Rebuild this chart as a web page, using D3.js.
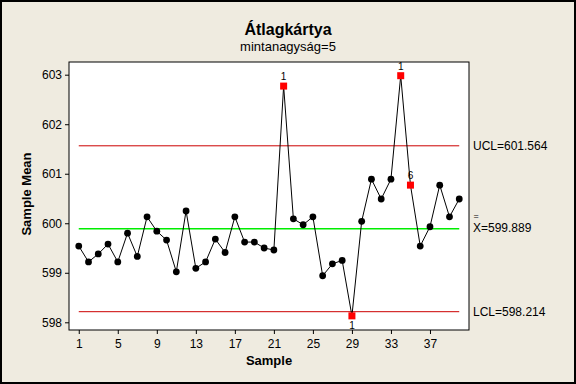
<!DOCTYPE html>
<html>
<head>
<meta charset="utf-8">
<script src="https://cdn.jsdelivr.net/npm/d3@7"></script>
<style>
html,body{margin:0;padding:0;background:#efebe0;}
svg{display:block;font-family:"Liberation Sans",Arial,sans-serif;}
</style>
</head>
<body>
<script>
const samples = d3.range(1, 41);
const means = [599.54,599.22,599.38,599.58,599.22,599.80,599.33,600.13,599.84,599.66,
               599.02,600.25,599.09,599.22,599.68,599.41,600.13,599.62,599.62,599.50,
               599.46,602.77,600.09,599.97,600.13,598.94,599.18,599.25,598.13,600.04,
               600.89,600.49,600.89,602.98,600.77,599.54,599.93,600.77,600.13,600.49];
const flagged = [22, 29, 34, 35];
const flagLabels = {22: "1", 29: "1", 34: "1", 35: "6"};
const flagBelow = [29];
const UCL = 601.564, CL = 599.889, LCL = 598.214;
const xTicks = [1,5,9,13,17,21,25,29,33,37];
const yTicks = [598,599,600,601,602,603];

const W = 576, H = 384;
const plot = {left: 69, right: 469, top: 62, bottom: 330};

const svg = d3.select("body").append("svg").attr("width", W).attr("height", H);
svg.append("rect").attr("x",1).attr("y",1).attr("width",W-2).attr("height",H-2)
  .attr("fill","#efebe0").attr("stroke","#000").attr("stroke-width",2);

const x = d3.scaleLinear().domain([0, 41]).range([plot.left, plot.right]);
const y = d3.scaleLinear().domain([597.8445, 603.2565]).range([plot.bottom, plot.top]);

svg.append("rect").attr("x", plot.left).attr("y", plot.top)
  .attr("width", plot.right - plot.left).attr("height", plot.bottom - plot.top)
  .attr("fill", "#fff").attr("stroke", "#000").attr("stroke-width", 1);

// axes
const ya = svg.append("g").attr("transform", `translate(${plot.left},0)`)
  .call(d3.axisLeft(y).tickValues(yTicks).tickFormat(d3.format("d")).tickSize(4).tickPadding(3));
const xa = svg.append("g").attr("transform", `translate(0,${plot.bottom})`)
  .call(d3.axisBottom(x).tickValues(xTicks).tickFormat(d3.format("d")).tickSize(4).tickPadding(5));
[ya, xa].forEach(g => {
  g.select(".domain").remove();
  g.selectAll("text").attr("font-size", 12).attr("fill", "#000").attr("font-family", '"Liberation Sans",Arial,sans-serif');
  g.selectAll("line").attr("stroke", "#000");
});

// control lines
const x0 = x(1), x1 = x(40);
svg.append("line").attr("x1", x0).attr("x2", x1).attr("y1", y(UCL)).attr("y2", y(UCL)).attr("stroke", "#cc0000").attr("stroke-width", 1);
svg.append("line").attr("x1", x0).attr("x2", x1).attr("y1", y(LCL)).attr("y2", y(LCL)).attr("stroke", "#cc0000").attr("stroke-width", 1);
svg.append("line").attr("x1", x0).attr("x2", x1).attr("y1", y(CL)).attr("y2", y(CL)).attr("stroke", "#00ee00").attr("stroke-width", 1.3);

// data line
const data = samples.map((s, i) => ({s, v: means[i]}));
svg.append("path").datum(data)
  .attr("d", d3.line().x(d => x(d.s)).y(d => y(d.v)))
  .attr("fill", "none").attr("stroke", "#000").attr("stroke-width", 1);

svg.selectAll("circle.pt").data(data.filter(d => !flagged.includes(d.s))).enter()
  .append("circle").attr("class", "pt").attr("cx", d => x(d.s)).attr("cy", d => y(d.v))
  .attr("r", 3.4).attr("fill", "#000");

svg.selectAll("rect.flag").data(data.filter(d => flagged.includes(d.s))).enter()
  .append("rect").attr("class", "flag").attr("x", d => x(d.s) - 3.5).attr("y", d => y(d.v) - 3.5)
  .attr("width", 7).attr("height", 7).attr("fill", "#ff0000");

svg.selectAll("text.flag").data(data.filter(d => flagged.includes(d.s))).enter()
  .append("text").attr("class", "flag").attr("x", d => x(d.s)).attr("text-anchor", "middle")
  .attr("y", d => flagBelow.includes(d.s) ? y(d.v) + 13 : y(d.v) - 6)
  .attr("font-size", 10).attr("fill", "#000").text(d => flagLabels[d.s]);

// right labels
const lx = 473;
svg.append("text").attr("x", lx).attr("y", y(UCL) + 4.5).attr("font-size", 12).text("UCL=601.564");
svg.append("text").attr("x", lx).attr("y", y(LCL) + 4.5).attr("font-size", 12).text("LCL=598.214");
svg.append("text").attr("x", lx + 0.5).attr("y", y(CL) - 10.2).attr("font-size", 9).text("=");
svg.append("text").attr("x", lx).attr("y", y(CL) + 3.5).attr("font-size", 12).text("X=599.889");

// titles
svg.append("text").attr("x", 288).attr("y", 35).attr("text-anchor", "middle")
  .attr("font-size", 16).attr("font-weight", "bold").text("Átlagkártya");
svg.append("text").attr("x", 288).attr("y", 51).attr("text-anchor", "middle")
  .attr("font-size", 13).text("mintanagyság=5");
svg.append("text").attr("x", (plot.left + plot.right) / 2).attr("y", 365).attr("text-anchor", "middle")
  .attr("font-size", 13).attr("font-weight", "bold").text("Sample");
svg.append("text").attr("transform", "translate(31,194) rotate(-90)").attr("text-anchor", "middle")
  .attr("font-size", 13).attr("font-weight", "bold").text("Sample Mean");
</script>
</body>
</html>
